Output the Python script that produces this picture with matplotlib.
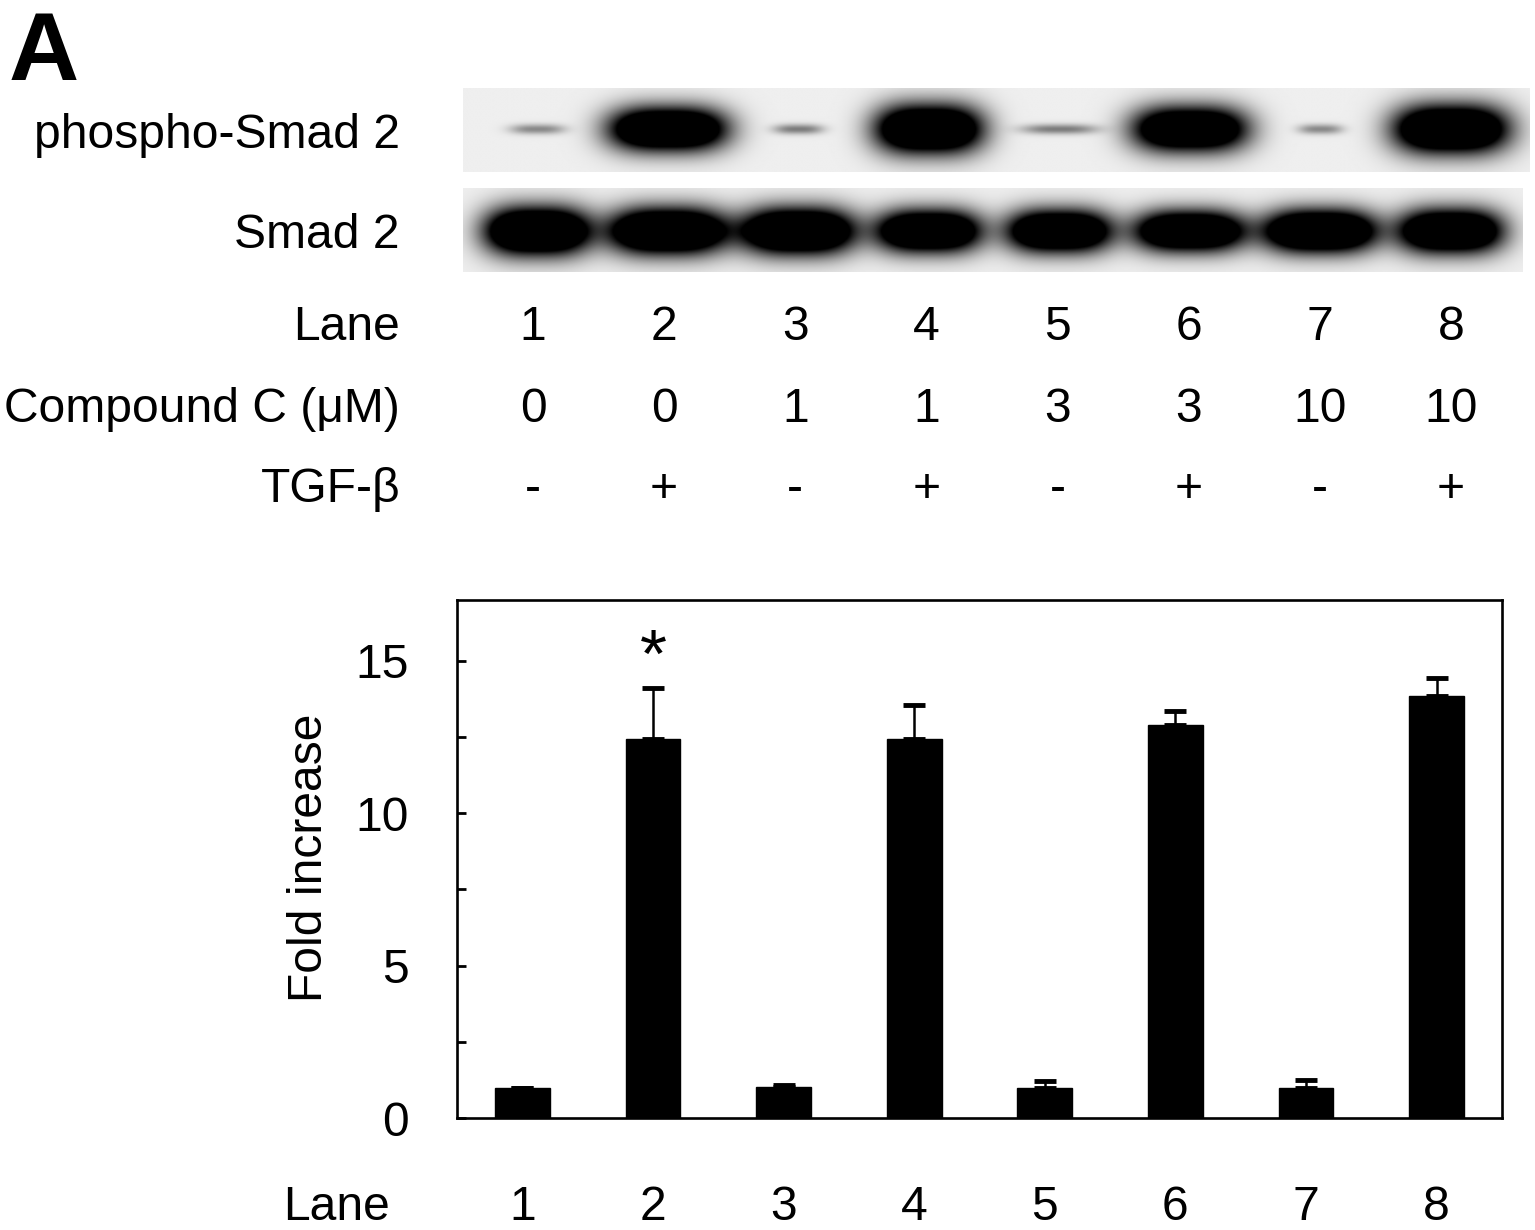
import numpy as np
import matplotlib
matplotlib.use("Agg")
import matplotlib.pyplot as plt
from matplotlib.transforms import blended_transform_factory

plt.rcParams['font.family'] = ['Liberation Sans', 'DejaVu Sans']

lanes = np.arange(1, 9)
compound_c = ["0", "0", "1", "1", "3", "3", "10", "10"]
tgf_beta = ["-", "+", "-", "+", "-", "+", "-", "+"]

# quantification (fold increase of phospho-Smad 2)
fold_increase = [1.0, 12.45, 1.03, 12.45, 1.0, 12.9, 1.0, 13.85]
fold_err = [0.0, 1.65, 0.05, 1.1, 0.2, 0.45, 0.25, 0.6]
signif_lanes = [2]

# blot bands: darkness, half width (lane units), half height (panel fraction)
psmad_level = [0.4, 1.8, 0.45, 1.8, 0.45, 1.7, 0.4, 1.8]
psmad_width = [0.21, 0.45, 0.19, 0.41, 0.29, 0.44, 0.17, 0.44]
psmad_height = [0.06, 0.26, 0.06, 0.29, 0.06, 0.27, 0.06, 0.29]
smad_level = [1.9, 1.9, 1.9, 1.8, 1.8, 1.8, 1.9, 1.8]
smad_width = [0.40, 0.45, 0.43, 0.40, 0.40, 0.42, 0.43, 0.40]
smad_height = [0.28, 0.27, 0.27, 0.25, 0.25, 0.24, 0.25, 0.26]

W, H = 1535, 1230
fig = plt.figure(figsize=(W / 100, H / 100), dpi=100)


def fx(x):
    return x / W


def fy(y):
    return 1 - y / H


def draw_blot(x0, y0, x1, y1, xlim, level, width, height, yc):
    ax = fig.add_axes([fx(x0), fy(y1), (x1 - x0) / W, (y1 - y0) / H])
    xs = np.linspace(xlim[0], xlim[1], 900)
    ys = np.linspace(0, 1, 120)
    X, Y = np.meshgrid(xs, ys)
    dark = np.zeros_like(X)
    for lane, lv, w, h in zip(lanes, level, width, height):
        dark += lv * np.exp(-(np.abs(X - lane) / w) ** 3 - (np.abs(Y - yc) / h) ** 2)
    img = np.clip(0.935 - dark, 0, 1)
    ax.imshow(img, cmap="gray", vmin=0, vmax=1, extent=(xlim[0], xlim[1], 1, 0),
              aspect="auto", interpolation="bilinear")
    ax.set_xlim(xlim)
    ax.set_ylim(1, 0)
    ax.axis("off")
    return ax

blot1 = draw_blot(463, 88, 1530, 172, (0.434, 8.6), psmad_level, psmad_width, psmad_height, 0.49)
blot2 = draw_blot(463, 188, 1523, 272, (0.434, 8.55), smad_level, smad_width, smad_height, 0.52)

fs = 34.6
fig.text(fx(9), fy(80), "A", fontsize=70, fontweight="bold", ha="left", va="baseline")
fig.text(fx(400), fy(148), "phospho-Smad 2", fontsize=fs, ha="right", va="baseline")
fig.text(fx(400), fy(248), "Smad 2", fontsize=fs, ha="right", va="baseline")

# condition table under the blot (its own lane scale)
tab = fig.add_axes([fx(463), fy(520), (1530 - 463) / W, 230 / H])
tab.set_xlim(0.466, 8.603)
tab.axis("off")
trans = blended_transform_factory(tab.transData, fig.transFigure)
rows = [("Lane", [str(l) for l in lanes], 340),
        ("Compound C (μM)", compound_c, 422),
        ("TGF-β", tgf_beta, 502)]
for label, vals, base in rows:
    fig.text(fx(400), fy(base), label, fontsize=fs, ha="right", va="baseline")
    for lane, v in zip(lanes, vals):
        fig.text(lane, fy(base), v, fontsize=fs, ha="center", va="baseline", transform=trans)

# bar chart
ax = fig.add_axes([fx(457), fy(1118), 1045 / W, 518 / H])
ax.bar(lanes, fold_increase, width=0.42, color="black", edgecolor="black")
ax.errorbar(lanes, fold_increase, yerr=[np.zeros(len(lanes)), fold_err], fmt="none",
            ecolor="black", elinewidth=1.8, capsize=8, capthick=3.5)
for lane in signif_lanes:
    ax.text(lane, 15.07, "*", fontsize=50, ha="center", va="center")
ax.set_xlim(0.5, 8.5)
ax.set_ylim(0, 17)
ax.set_yticks([0, 5, 10, 15])
ax.set_yticks([2.5, 7.5, 12.5], minor=True)
ax.set_xticks([])
ax.tick_params(axis="y", which="both", direction="in", length=6.5, width=2,
               labelsize=fs, pad=35)
for sp in ax.spines.values():
    sp.set_linewidth(1.9)
fig.text(fx(309), fy(858), "Fold increase", fontsize=fs, rotation=90, ha="center", va="center")

trans2 = blended_transform_factory(ax.transData, fig.transFigure)
fig.text(fx(390), fy(1220), "Lane", fontsize=fs, ha="right", va="baseline")
for lane in lanes:
    fig.text(lane, fy(1220), str(lane), fontsize=fs, ha="center", va="baseline", transform=trans2)

fig.savefig("out.png", dpi=100)
